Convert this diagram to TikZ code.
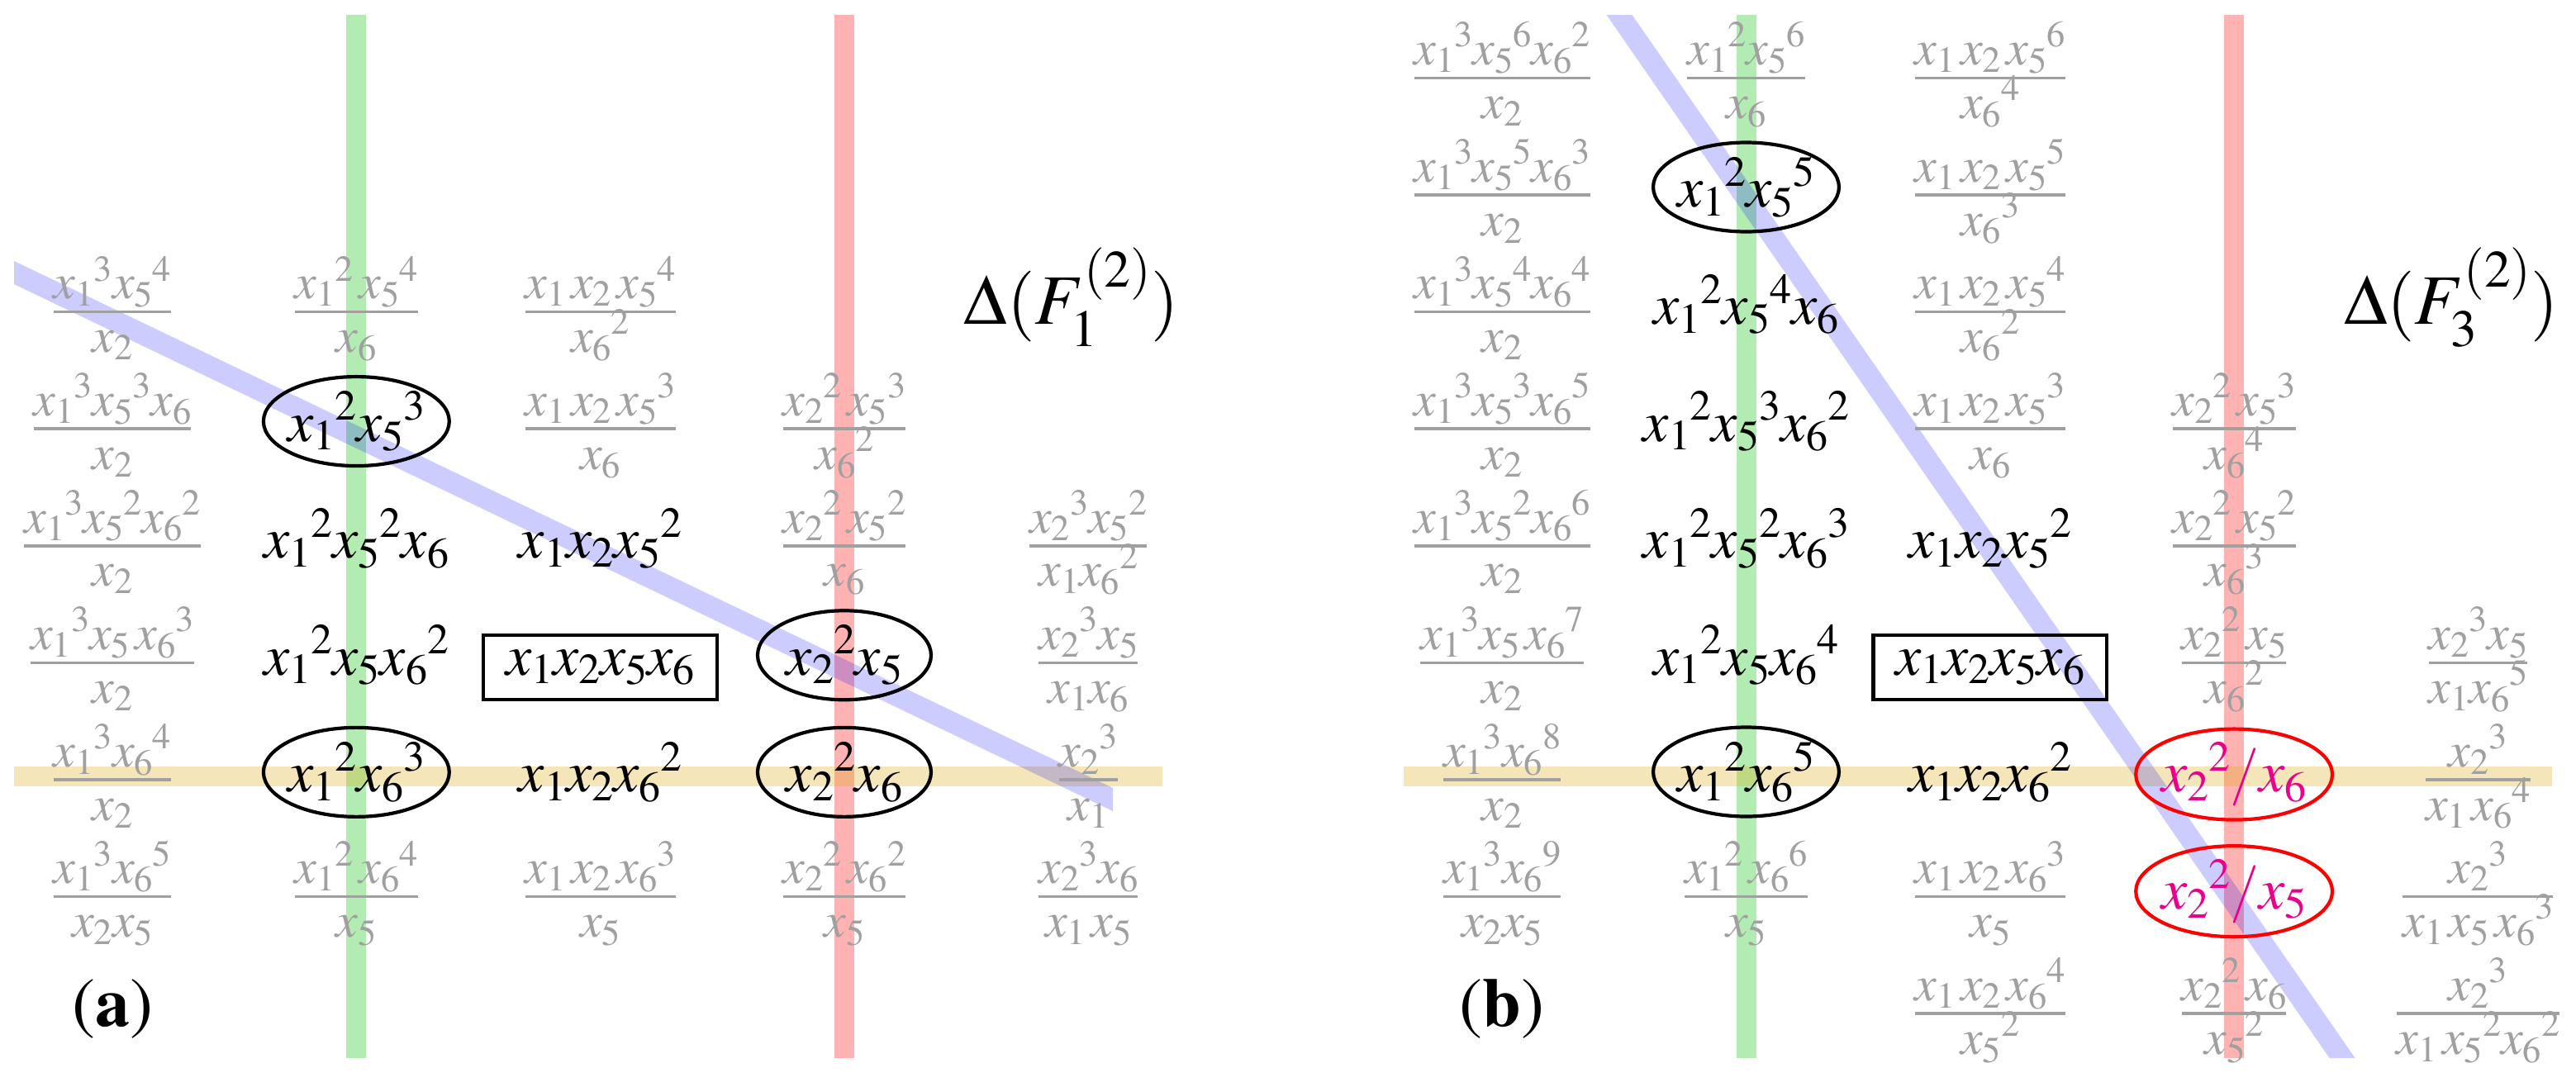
\documentclass[tikz,border=0pt]{standalone}
\usepackage[T1]{fontenc}
\usepackage{mathptmx}
\usepackage{amsmath}
\usetikzlibrary{shapes.geometric}

\definecolor{fadegray}{RGB}{160,160,160}
\definecolor{pinkish}{RGB}{235,0,139}
\definecolor{linegreen}{RGB}{0,192,0}
\definecolor{lineyellow}{RGB}{222,172,22}

\scriptspace=0pt
% flat fraction: bar on the axis, fixed room above and below it
\newcommand{\mfrac}[2]{\genfrac{}{}{0.6pt}{1}%
   {\textstyle\smash[b]{#1}\vrule width 0pt height 1.7pt depth 1.7pt}%
   {\textstyle\smash[t]{#2}\vrule width 0pt height 7.3pt depth 0pt}}

\begin{document}
\begin{tikzpicture}[x=1.730cm,y=-0.8295cm,
      faded/.style ={text=fadegray, font=\fontsize{10}{12}\selectfont, anchor=mid, inner sep=1pt},
      mono/.style ={font=\fontsize{11.7}{14}\selectfont, anchor=mid},
      chosen/.style ={mono, ellipse, draw, line width=0.7pt, inner xsep=-0.6pt, inner ysep=0pt, minimum width=35pt, minimum height=18pt},
      extra/.style ={chosen, draw=red, text=pinkish},
      core/.style ={mono, rectangle, draw, line width=0.7pt, inner xsep=4.5pt, inner ysep=2.2pt, minimum height=13pt},
      delta/.style ={font=\fontsize{14.3}{17}\selectfont, anchor=mid},
      panel/.style ={font=\fontsize{14}{16}\selectfont, anchor=mid},
      vband/.style ={line width=4pt, opacity=0.3}]
   \useasboundingbox (-0.4606,-0.6766) rectangle (10.0975,8.5678);

   % (a)
   \draw[vband, linegreen] (1,-0.549) -- (1,8.370);
   \draw[vband, red] (3,-0.549) -- (3,8.370);
   \draw[vband, lineyellow] (-0.403,5.962) -- (4.304,5.962);
   \fill[blue, opacity=0.2] (-0.403,1.555) -- (4.101,6.061) -- (4.101,6.259) -- (-0.403,1.753) -- cycle;

   \node[faded] (a02) at (0,2) {$\mfrac{{x_1}^3{x_5}^4}{x_2}$};
   \node[faded] (a12) at (1,2) {$\mfrac{{x_1}^2\,{x_5}^4}{x_6}$};
   \node[faded] (a22) at (2,2) {$\mfrac{x_1\,x_2\,{x_5}^4}{{x_6}^2}$};
   \node[delta] (fa)  at (3.93,2) {$\Delta(F_1^{(2)})$};
   \node[faded] (a03) at (0,3) {$\mfrac{{x_1}^3{x_5}^3x_6}{x_2}$};
   \node[chosen] (a13) at (1,3) {${x_1}^2{x_5}^3$};
   \node[faded] (a23) at (2,3) {$\mfrac{x_1\,x_2\,{x_5}^3}{x_6}$};
   \node[faded] (a33) at (3,3) {$\mfrac{{x_2}^2\,{x_5}^3}{{x_6}^2}$};
   \node[faded] (a04) at (0,4) {$\mfrac{{x_1}^3{x_5}^2{x_6}^2}{x_2}$};
   \node[mono] (a14) at (1,4) {${x_1}^2{x_5}^2x_6$};
   \node[mono] (a24) at (2,4) {$x_1x_2{x_5}^2$};
   \node[faded] (a34) at (3,4) {$\mfrac{{x_2}^2\,{x_5}^2}{x_6}$};
   \node[faded] (a44) at (4,4) {$\mfrac{{x_2}^3{x_5}^2}{x_1{x_6}^2}$};
   \node[faded] (a05) at (0,5) {$\mfrac{{x_1}^3x_5\,{x_6}^3}{x_2}$};
   \node[mono] (a15) at (1,5) {${x_1}^2x_5{x_6}^2$};
   \node[core] (a25) at (2,5) {$x_1x_2x_5x_6$};
   \node[chosen] (a35) at (3,5) {${x_2}^2x_5$};
   \node[faded] (a45) at (4,5) {$\mfrac{{x_2}^3x_5}{x_1x_6}$};
   \node[faded] (a06) at (0,6) {$\mfrac{{x_1}^3{x_6}^4}{x_2}$};
   \node[chosen] (a16) at (1,6) {${x_1}^2{x_6}^3$};
   \node[mono] (a26) at (2,6) {$x_1x_2{x_6}^2$};
   \node[chosen] (a36) at (3,6) {${x_2}^2x_6$};
   \node[faded] (a46) at (4,6) {$\mfrac{{x_2}^3}{x_1}$};
   \node[faded] (a07) at (0,7) {$\mfrac{{x_1}^3{x_6}^5}{x_2x_5}$};
   \node[faded] (a17) at (1,7) {$\mfrac{{x_1}^2\,{x_6}^4}{x_5}$};
   \node[faded] (a27) at (2,7) {$\mfrac{x_1\,x_2\,{x_6}^3}{x_5}$};
   \node[faded] (a37) at (3,7) {$\mfrac{{x_2}^2\,{x_6}^2}{x_5}$};
   \node[faded] (a47) at (4,7) {$\mfrac{{x_2}^3x_6}{x_1\,x_5}$};
   \node[panel] (la) at (0,8) {(\textbf{a})};

   % (b)
   \begin{scope}[shift={(5.696,0)}]
   \draw[vband, linegreen] (1,-0.549) -- (1,8.370);
   \draw[vband, red] (3,-0.549) -- (3,8.370);
   \draw[vband, lineyellow] (-0.403,5.962) -- (4.304,5.962);
   \fill[blue, opacity=0.2] (0.428,-0.549) -- (0.533,-0.549) -- (3.496,8.370) -- (3.391,8.370) -- cycle;

   \node[faded] (b00) at (0,0) {$\mfrac{{x_1}^3{x_5}^6{x_6}^2}{x_2}$};
   \node[faded] (b10) at (1,0) {$\mfrac{{x_1}^2{x_5}^6}{x_6}$};
   \node[faded] (b20) at (2,0) {$\mfrac{x_1\,x_2\,{x_5}^6}{{x_6}^4}$};
   \node[faded] (b01) at (0,1) {$\mfrac{{x_1}^3{x_5}^5{x_6}^3}{x_2}$};
   \node[chosen] (b11) at (1,1) {${x_1}^2{x_5}^5$};
   \node[faded] (b21) at (2,1) {$\mfrac{x_1\,x_2\,{x_5}^5}{{x_6}^3}$};
   \node[faded] (b02) at (0,2) {$\mfrac{{x_1}^3{x_5}^4{x_6}^4}{x_2}$};
   \node[mono] (b12) at (1,2) {${x_1}^2{x_5}^4x_6$};
   \node[faded] (b22) at (2,2) {$\mfrac{x_1\,x_2\,{x_5}^4}{{x_6}^2}$};
   \node[delta] (fb)  at (3.89,2) {$\Delta(F_3^{(2)})$};
   \node[faded] (b03) at (0,3) {$\mfrac{{x_1}^3{x_5}^3{x_6}^5}{x_2}$};
   \node[mono] (b13) at (1,3) {${x_1}^2{x_5}^3{x_6}^2$};
   \node[faded] (b23) at (2,3) {$\mfrac{x_1\,x_2\,{x_5}^3}{x_6}$};
   \node[faded] (b33) at (3,3) {$\mfrac{{x_2}^2\,{x_5}^3}{{x_6}^4}$};
   \node[faded] (b04) at (0,4) {$\mfrac{{x_1}^3{x_5}^2{x_6}^6}{x_2}$};
   \node[mono] (b14) at (1,4) {${x_1}^2{x_5}^2{x_6}^3$};
   \node[mono] (b24) at (2,4) {$x_1x_2{x_5}^2$};
   \node[faded] (b34) at (3,4) {$\mfrac{{x_2}^2\,{x_5}^2}{{x_6}^3}$};
   \node[faded] (b05) at (0,5) {$\mfrac{{x_1}^3x_5\,{x_6}^7}{x_2}$};
   \node[mono] (b15) at (1,5) {${x_1}^2x_5{x_6}^4$};
   \node[core] (b25) at (2,5) {$x_1x_2x_5x_6$};
   \node[faded] (b35) at (3,5) {$\mfrac{{x_2}^2\,x_5}{{x_6}^2}$};
   \node[faded] (b45) at (4,5) {$\mfrac{{x_2}^3x_5}{x_1{x_6}^5}$};
   \node[faded] (b06) at (0,6) {$\mfrac{{x_1}^3{x_6}^8}{x_2}$};
   \node[chosen] (b16) at (1,6) {${x_1}^2{x_6}^5$};
   \node[mono] (b26) at (2,6) {$x_1x_2{x_6}^2$};
   \node[extra] (b36) at (3,6) {${x_2}^2/x_6$};
   \node[faded] (b46) at (4,6) {$\mfrac{{x_2}^3}{x_1\,{x_6}^4}$};
   \node[faded] (b07) at (0,7) {$\mfrac{{x_1}^3{x_6}^9}{x_2x_5}$};
   \node[faded] (b17) at (1,7) {$\mfrac{{x_1}^2\,{x_6}^6}{x_5}$};
   \node[faded] (b27) at (2,7) {$\mfrac{x_1\,x_2\,{x_6}^3}{x_5}$};
   \node[extra] (b37) at (3,7) {${x_2}^2/x_5$};
   \node[faded] (b47) at (4,7) {$\mfrac{{x_2}^3}{x_1\,x_5\,{x_6}^3}$};
   \node[panel] (lb) at (0,8) {(\textbf{b})};
   \node[faded] (b28) at (2,8) {$\mfrac{x_1\,x_2\,{x_6}^4}{{x_5}^2}$};
   \node[faded] (b38) at (3,8) {$\mfrac{{x_2}^2\,x_6}{{x_5}^2}$};
   \node[faded] (b48) at (4,8) {$\mfrac{{x_2}^3}{x_1\,{x_5}^2{x_6}^2}$};
   \end{scope}
 \end{tikzpicture}
\end{document}
